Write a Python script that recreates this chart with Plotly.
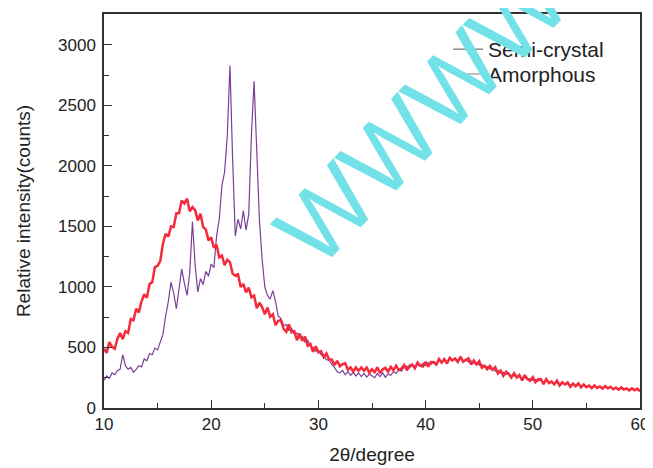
import numpy as np
import plotly.graph_objects as go

# 2-theta sampling (degrees), 0.25 deg step from 10 to 60
theta_start = 10.0
theta_step = 0.25

# Semi-crystal intensities (counts)
semi_crystal = [
    230, 265, 245, 290, 275, 310, 320, 440, 350, 320,      # 10.00 - 12.25
    335, 295, 320, 350, 340, 405, 390, 450, 440, 495,      # 12.50 - 14.75
    480, 540, 610, 760, 880, 1040, 950, 820, 980, 1150,    # 15.00 - 17.25
    1030, 930, 1120, 1540, 1180, 960, 1070, 1020, 1130, 1090,  # 17.50 - 19.75
    1190, 1160, 1420, 1560, 1840, 1950, 2250, 2830, 2050, 1420,  # 20.00 - 22.25
    1560, 1480, 1630, 1470, 1600, 2250, 2700, 2050, 1550, 1230,  # 22.50 - 24.75
    1000, 930, 900, 970, 880, 760, 740, 680, 690, 640,     # 25.00 - 27.25
    660, 610, 620, 580, 590, 545, 560, 510, 500, 470,      # 27.50 - 29.75
    475, 440, 430, 400, 395, 360, 335, 300, 290, 310,      # 30.00 - 32.25
    275, 300, 270, 295, 265, 290, 260, 285, 255, 280,      # 32.50 - 34.75
    265, 250, 285, 260, 290, 255, 280, 270, 300, 285,      # 35.00 - 37.25
    320, 305, 340, 345, 330, 355, 340, 360, 345, 370,      # 37.50 - 39.75
    350, 375, 360, 385, 370, 390, 378, 395, 385, 405,      # 40.00 - 42.25
    390, 408, 395, 405, 390, 400, 380, 388, 370, 375,      # 42.50 - 44.75
    355, 360, 340, 342, 322, 325, 305, 310, 290, 295,      # 45.00 - 47.25
    278, 283, 265, 270, 255, 262, 245, 252, 238, 243,      # 47.50 - 49.75
    228, 236, 222, 229, 216, 223, 210, 217, 204, 211,      # 50.00 - 52.25
    199, 206, 194, 201, 189, 196, 184, 192, 180, 188,      # 52.50 - 54.75
    176, 184, 172, 181, 169, 177, 165, 174, 162, 170,      # 55.00 - 57.25
    159, 167, 156, 164, 152, 161, 149, 157, 145, 154,      # 57.50 - 59.75
    142,                                                   # 60.00
]

# Amorphous intensities (counts)
amorphous = [
    490, 455, 545, 505, 490, 570, 620, 570, 635, 620,      # 10.00 - 12.25
    735, 725, 820, 790, 880, 940, 910, 1025, 1040, 1165,   # 12.50 - 14.75
    1175, 1215, 1360, 1440, 1415, 1500, 1495, 1610, 1610, 1715,  # 15.00 - 17.25
    1690, 1730, 1625, 1660, 1635, 1550, 1605, 1495, 1475, 1385,  # 17.50 - 19.75
    1410, 1325, 1350, 1245, 1260, 1180, 1225, 1205, 1110, 1095,  # 20.00 - 22.25
    1105, 1000, 1025, 955, 995, 915, 930, 825, 870, 835,   # 22.50 - 24.75
    775, 830, 755, 775, 685, 720, 725, 655, 630, 690,      # 25.00 - 27.25
    625, 635, 560, 615, 555, 590, 515, 530, 465, 510,      # 27.50 - 29.75
    460, 470, 420, 450, 400, 400, 355, 390, 345, 362,      # 30.00 - 32.25
    370, 317, 335, 300, 335, 307, 335, 307, 335, 290,      # 32.50 - 34.75
    320, 296, 337, 288, 320, 331, 298, 340, 312, 350,      # 35.00 - 37.25
    313, 326, 355, 312, 350, 359, 328, 376, 350, 343,      # 37.50 - 39.75
    382, 341, 380, 379, 358, 406, 375, 403, 367, 415,      # 40.00 - 42.25
    393, 409, 380, 424, 383, 399, 410, 359, 393, 360,      # 42.50 - 44.75
    387, 333, 350, 321, 348, 315, 337, 285, 308, 266,      # 45.00 - 47.25
    300, 283, 252, 287, 252, 272, 227, 272, 238, 224,      # 47.50 - 49.75
    255, 212, 238, 240, 197, 239, 206, 218, 195, 227,      # 50.00 - 52.25
    185, 212, 195, 212, 175, 202, 180, 203, 171, 194,      # 52.50 - 54.75
    172, 185, 163, 187, 165, 178, 161, 180, 163, 176,      # 55.00 - 57.25
    155, 168, 152, 170, 153, 162, 145, 163, 146, 160,      # 57.50 - 59.75
    138,                                                   # 60.00
]

if len(semi_crystal) != 201 or len(amorphous) != 201:
    raise ValueError(f"lengths: {len(semi_crystal)}, {len(amorphous)}")

two_theta = theta_start + theta_step * np.arange(len(amorphous))

fig = go.Figure()

# data traces (legend shown through grey swatches below, as in the original)
fig.add_trace(go.Scatter(
    x=two_theta, y=semi_crystal, mode="lines", showlegend=False,
    line=dict(color="#7b3f98", width=1.2)
))
fig.add_trace(go.Scatter(
    x=two_theta, y=amorphous, mode="lines", showlegend=False,
    line=dict(color="#f52a3a", width=2.5)
))

# legend swatches, one legend each so the rows can be placed exactly
fig.add_trace(go.Scatter(
    x=[None], y=[None], mode="lines", name="Semi-crystal", legend="legend",
    line=dict(color="#555555", width=1)
))
fig.add_trace(go.Scatter(
    x=[None], y=[None], mode="lines", name="Amorphous", legend="legend2",
    line=dict(color="#a8a8a8", width=1.5)
))

axis_common = dict(
    ticks="inside", ticklen=8, tickwidth=1.2, tickcolor="#333",
    showline=True, linecolor="#333", linewidth=1.5, mirror=True,
    showgrid=False, zeroline=False, automargin=False,
    tickfont=dict(size=17, color="#222"),
)

fig.update_xaxes(
    range=[10, 60], tick0=10, dtick=10,
    minor=dict(dtick=5, ticks="inside", ticklen=5, tickcolor="#333", showgrid=False),
    title=dict(text="2θ/degree", font=dict(size=19, color="#222"), standoff=15),
    **axis_common
)
fig.update_yaxes(
    range=[0, 3256], tick0=0, dtick=500, ticklabelstandoff=3,
    minor=dict(dtick=250, ticks="inside", ticklen=5, tickcolor="#333", showgrid=False),
    title=dict(text="Relative intensity(counts)", font=dict(size=19, color="#222"), standoff=22),
    **axis_common
)

# watermark
fig.add_annotation(
    text="WWWW", xref="paper", yref="paper", x=0.593, y=0.744,
    xanchor="center", yanchor="middle",
    showarrow=False, textangle=-46,
    font=dict(size=98, color="#72e2e8", family="Liberation Sans, Arial")
)

legend_common = dict(
    xanchor="left", yanchor="middle",
    bgcolor="rgba(0,0,0,0)", font=dict(size=21, color="#222"),
    itemwidth=30,
)

# the page body adds an 8 px offset, so margins are shifted by 8 px
fig.update_layout(
    width=653, height=468,
    margin=dict(l=96, r=21, t=6, b=68),
    plot_bgcolor="white", paper_bgcolor="white",
    font=dict(family="Liberation Sans, Arial, sans-serif", size=16, color="#222"),
    legend=dict(x=0.642, y=0.91, **legend_common),
    legend2=dict(x=0.642, y=0.847, **legend_common),
)

fig.write_html("out.html")
